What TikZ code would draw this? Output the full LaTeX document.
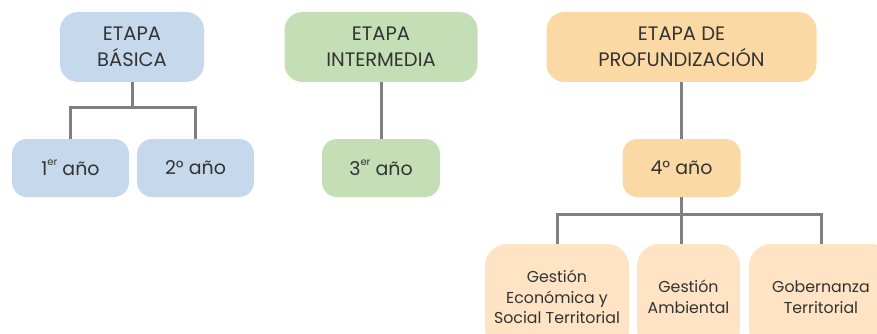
\documentclass[tikz,border=0pt]{standalone}
\usepackage{fontspec}
\setmainfont{Poppins}
\definecolor{cblue}{HTML}{C6D9EC}
\definecolor{cgreen}{HTML}{C4DFB5}
\definecolor{corange}{HTML}{FBD9A5}
\definecolor{clight}{HTML}{FEE3C4}
\definecolor{cline}{HTML}{808080}
\definecolor{ctext}{HTML}{333333}
\newcommand{\supr}[1]{\raisebox{0.55em}{\fontsize{10}{10}\selectfont #1}}
\tikzset{
  box/.style={rounded corners=18pt, inner sep=0pt, align=center, text=ctext,
    font=\fontsize{19.5}{26}\selectfont},
  small/.style={box, rounded corners=15pt, minimum height=58pt,
    font=\fontsize{19}{24}\selectfont},
  leaf/.style={box, rounded corners=22pt, fill=clight, minimum height=106pt,
    font=\fontsize{15.8}{20.5}\selectfont},
  conn/.style={draw=cline, line width=3pt},
}
\begin{document}
\begin{tikzpicture}[x=1pt,y=-1pt]
\useasboundingbox (0,0) rectangle (877,334);
\clip (0,0) rectangle (877,334);
% top level
\node[box, fill=cblue, minimum width=144pt, minimum height=70pt] (bas) at (132,47) {ETAPA\\BÁSICA};
\node[box, fill=cgreen, minimum width=193pt, minimum height=70pt] (inter) at (381,47) {ETAPA\\INTERMEDIA};
\node[box, fill=corange, minimum width=270pt, minimum height=70pt] (prof) at (681.5,47) {ETAPA DE\\PROFUNDIZACIÓN};
% years
\node[small, fill=cblue, minimum width=117pt] (a1) at (70.5,168) {1\supr{er} año};
\node[small, fill=cblue, minimum width=117pt] (a2) at (195.5,168) {2° año};
\node[small, fill=cgreen, minimum width=118pt] (a3) at (381,168) {3\supr{er} año};
\node[small, fill=corange, minimum width=118pt] (a4) at (681.5,168) {4° año};
% leaves
\node[leaf, minimum width=144pt] (g1) at (557,297) {Gestión\\Económica y\\Social Territorial};
\node[leaf, minimum width=103pt] (g2) at (688.5,297) {Gestión\\Ambiental};
\node[leaf, minimum width=144pt] (g3) at (821,297) {Gobernanza\\Territorial};
% connectors
\coordinate (j1) at (132,108);
\coordinate (j4) at (681.5,214);
\draw[conn] (bas.south) -- (j1);
\draw[conn] (a1.north) |- (j1) -| (a2.north);
\draw[conn] (inter.south) -- (a3.north);
\draw[conn] (prof.south) -- (a4.north);
\draw[conn] (a4.south) -- (j4);
\draw[conn] (g1.north) |- (j4) -| (g3.north);
\draw[conn] (j4) -- (j4 |- g2.north);
\end{tikzpicture}
\end{document}
